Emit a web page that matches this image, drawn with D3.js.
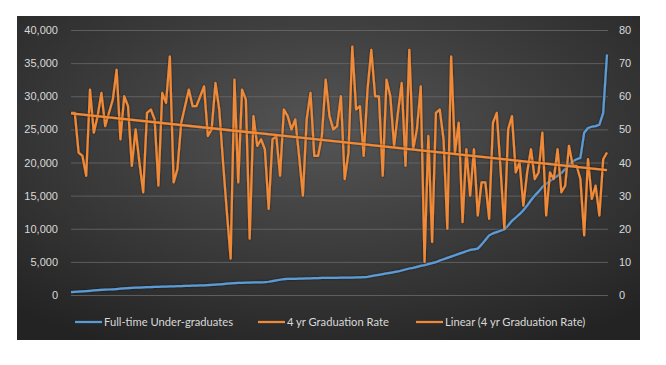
<!DOCTYPE html>
<html>
<head>
<meta charset="utf-8">
<script src="https://cdn.jsdelivr.net/npm/d3@7"></script>
<style>
  body { margin: 0; background: #fff; }
  svg { display: block; font-family: Lato, "Open Sans", sans-serif; }
  .tick text { fill: #d9d9d9; font-size: 11px; }
  .legend text { fill: #d9d9d9; font-size: 11.2px; }
</style>
</head>
<body>
<svg id="chart" width="666" height="365"></svg>
<script>
// full-time undergrads (sorted), one per school
var undergrads = [
  450, 480, 520, 560, 600, 640, 680, 720, 760, 800,
  830, 860, 900, 950, 1000, 1050, 1080, 1100, 1120, 1150,
  1180, 1200, 1210, 1230, 1250, 1270, 1290, 1310, 1330, 1350,
  1370, 1390, 1410, 1430, 1450, 1470, 1500, 1530, 1560, 1600,
  1650, 1700, 1750, 1800, 1820, 1840, 1860, 1880, 1900, 1900,
  1920, 1950, 2000, 2100, 2200, 2300, 2400, 2420, 2440, 2450,
  2460, 2480, 2500, 2520, 2540, 2560, 2570, 2580, 2590, 2600,
  2600, 2610, 2620, 2630, 2640, 2650, 2660, 2700, 2750, 2850,
  2950, 3050, 3150, 3250, 3350, 3450, 3550, 3700, 3850, 4000,
  4100, 4250, 4400, 4500, 4650, 4800, 4950, 5200, 5400, 5600,
  5800, 6000, 6200, 6400, 6600, 6800, 6900, 7000, 7600, 8300,
  9000, 9300, 9500, 9700, 9900, 10500, 11200, 11700, 12200, 12800,
  13500, 14300, 15000, 15600, 16300, 16800, 17200, 17600, 18000, 18400,
  19000, 19600, 20200, 20500, 20700, 24500, 25200, 25400, 25500, 25700,
  27500, 36300
];

// 4 yr graduation rate (%), same order
var gradRate = [
  55, 55, 43, 42, 36, 62, 49, 54, 61, 51, 55, 59, 68, 47, 60, 57, 39, 50, 40, 31, 55, 56, 53,
  33, 61, 58, 72, 34, 38, 52, 57, 62, 57, 57, 60, 63, 48, 50, 64, 56, 40, 25, 11, 65, 34, 62, 59, 17,
  54, 45, 47, 44, 26, 47, 48, 36, 56, 54, 50, 53, 42, 30, 53, 61, 42, 42, 48, 65, 54, 50, 51, 60,
  35, 43, 75, 56, 57, 42, 62, 74, 60, 60, 36, 65, 60, 45, 55, 64, 39, 74, 44, 50,
  63, 10, 48, 16, 55, 56, 47, 20, 72, 43, 52, 22, 44, 30, 44, 24, 34, 34, 23, 52,
  55, 38, 20, 50, 54, 37, 40, 27, 37, 44, 35, 37, 49, 24, 37, 35, 44, 31, 33, 45,
  39, 39, 35, 18, 41, 29, 33, 24, 41, 43
];

var leftTicks  = [0, 5000, 10000, 15000, 20000, 25000, 30000, 35000, 40000];
var rightTicks = [0, 10, 20, 30, 40, 50, 60, 70, 80];
var seriesNames = ["Full-time Under-graduates", "4 yr Graduation Rate", "Linear (4 yr Graduation Rate)"];

var blue   = "#5b9bd5";
var orange = "#f08a38";

var svg = d3.select('#chart');

var defs = svg.append("defs");
var grad = defs.append("radialGradient")
  .attr("id", "bg")
  .attr("cx", "50%").attr("cy", "35%").attr("r", "75%");
grad.append("stop").attr("offset", "0%").attr("stop-color", "#555555");
grad.append("stop").attr("offset", "100%").attr("stop-color", "#232323");

var shadow = defs.append("filter").attr("id", "shadow")
  .attr("x", "-5%").attr("y", "-5%").attr("width", "110%").attr("height", "110%");
shadow.append("feDropShadow")
  .attr("dx", 0).attr("dy", 0).attr("stdDeviation", 1.3)
  .attr("flood-color", "#000").attr("flood-opacity", 0.6);

svg.append("rect")
  .attr("x", 17).attr("y", 16)
  .attr("width", 623).attr("height", 324)
  .attr("fill", "url(#bg)");

var x = d3.scaleLinear().domain([0, gradRate.length - 1]).range([71, 607]);
var yLeft  = d3.scaleLinear().domain([0, 40000]).range([295, 30]);
var yRight = d3.scaleLinear().domain([0, 80]).range([295, 30]);

// gridlines
svg.append("g")
  .selectAll("line")
  .data(leftTicks)
  .enter()
  .append("line")
  .attr("x1", 71).attr("x2", 608)
  .attr("y1", d => yLeft(d) + 0.5).attr("y2", d => yLeft(d) + 0.5)
  .attr("stroke", "#6a6a6a")
  .attr("stroke-width", 0.8);

var leftAxis = svg.append("g")
  .attr("transform", "translate(58,0)")
  .call(d3.axisLeft(yLeft).tickValues(leftTicks).tickSize(0).tickPadding(0).tickFormat(d3.format(",")));
leftAxis.select(".domain").remove();

var rightAxis = svg.append("g")
  .attr("transform", "translate(619,0)")
  .call(d3.axisRight(yRight).tickValues(rightTicks).tickSize(0).tickPadding(0));
rightAxis.select(".domain").remove();

// series
var blueLine = d3.line()
  .x((d, i) => x(i))
  .y(d => yLeft(d));

var rateLine = d3.line()
  .x((d, i) => x(i))
  .y(d => yRight(d));

svg.append("path")
  .datum(undergrads)
  .attr("d", blueLine)
  .attr("fill", "none")
  .attr("stroke", blue)
  .attr("stroke-width", 2.25)
  .attr("stroke-linejoin", "round")
  .attr("filter", "url(#shadow)");

svg.append("path")
  .datum(gradRate)
  .attr("d", rateLine)
  .attr("fill", "none")
  .attr("stroke", orange)
  .attr("stroke-width", 2.25)
  .attr("stroke-linejoin", "round")
  .attr("filter", "url(#shadow)");

// least squares trend, like Excel's linear trendline
var n = gradRate.length;
var meanX = d3.mean(gradRate, (d, i) => i);
var meanY = d3.mean(gradRate);
var slope = d3.sum(gradRate, (d, i) => (i - meanX) * (d - meanY)) /
            d3.sum(gradRate, (d, i) => (i - meanX) * (i - meanX));
var icpt = meanY - slope * meanX;
var trend = [icpt, icpt + slope * (n - 1)];

svg.append("line")
  .attr("x1", x(0)).attr("y1", yRight(trend[0]))
  .attr("x2", x(n - 1)).attr("y2", yRight(trend[1]))
  .attr("stroke", orange)
  .attr("stroke-width", 2.25)
  .attr("filter", "url(#shadow)");

// legend
var legendX = [75, 258, 416];
var legendColors = [blue, orange, orange];
var legend = svg.append("g").attr("class", "legend");

legend.selectAll("line")
  .data(seriesNames)
  .enter()
  .append("line")
  .attr("x1", (d, i) => legendX[i]).attr("x2", (d, i) => legendX[i] + 27)
  .attr("y1", 322).attr("y2", 322)
  .attr("stroke", (d, i) => legendColors[i])
  .attr("stroke-width", 2.25);

legend.selectAll("text")
  .data(seriesNames)
  .enter()
  .append("text")
  .attr("x", (d, i) => legendX[i] + 29)
  .attr("y", 326)
  .text(d => d);
</script>
</body>
</html>
